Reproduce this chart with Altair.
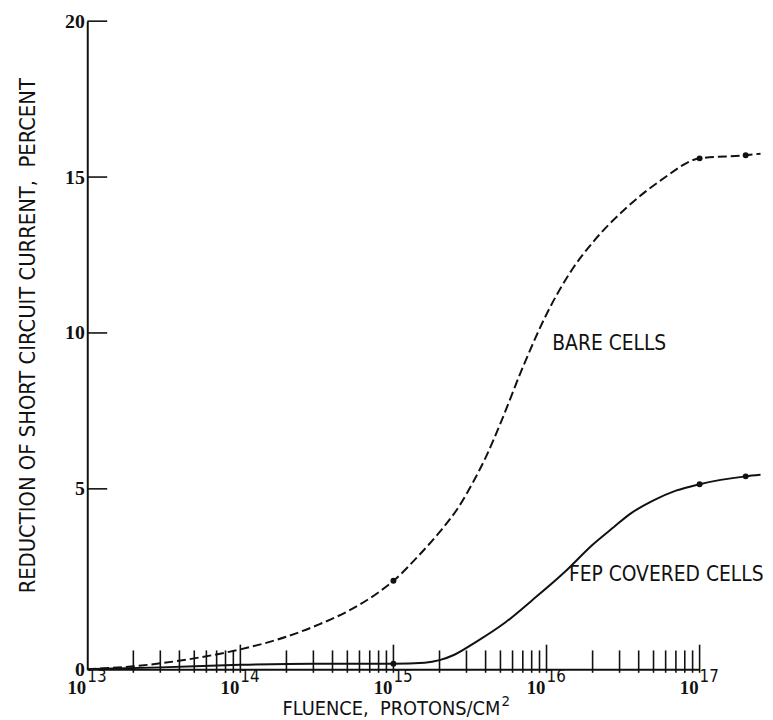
import altair as alt
import pandas as pd

# ---- data ----
bare_x = [1e13, 2e13, 5e13, 1e14, 2e14, 3.3e14, 5e14, 7.8e14, 1e15, 1.5e15, 2e15, 2.67e15,
          3.3e15, 4e15, 5e15, 7e15, 1e16, 1.5e16, 2e16, 3.3e16, 5.6e16, 1e17, 2e17, 2.5e17]
bare_y = [0.0, 0.08, 0.3, 0.55, 0.9, 1.25, 1.6, 2.1, 2.45, 3.2, 3.8, 4.5,
          5.2, 6.0, 7.1, 8.9, 10.6, 12.1, 12.9, 14.0, 14.9, 15.6, 15.7, 15.75]

fep_x = [1e13, 3e13, 1e14, 3e14, 1e15, 1.6e15, 2e15, 2.5e15, 3.45e15, 5.4e15, 8e15,
         1.32e16, 2e16, 2.77e16, 3.5e16, 5e16, 7e16, 1e17, 2e17, 2.5e17]
fep_y = [0.0, 0.05, 0.12, 0.15, 0.15, 0.18, 0.25, 0.4, 0.75, 1.3, 1.9,
         2.7, 3.45, 3.95, 4.3, 4.68, 4.95, 5.15, 5.4, 5.45]

bare_pts_x = [1e15, 1e17, 2e17]
bare_pts_y = [2.45, 15.6, 15.7]
fep_pts_x = [1e15, 1e17, 2e17]
fep_pts_y = [0.15, 5.15, 5.4]

y_tick_values = [0, 5, 10, 15, 20]
y_inner_ticks = [5, 10, 15, 20]
x_exponents = [13, 14, 15, 16, 17]
x_minor_mult = [2, 3, 4, 5, 6, 7, 8, 9]

series_labels = ["BARE CELLS", "FEP COVERED CELLS"]
series_label_x = [1.09e16, 1.4e16]
series_label_y = [9.65, 2.6]

x_title = "FLUENCE,\u00a0 PROTONS/CM"
x_title_sup = "2"
x_title_at = 5e15
y_title = "REDUCTION OF SHORT CIRCUIT CURRENT,\u00a0 PERCENT"

# ---- styling ----
NARROW = "'Liberation Sans Narrow', 'DejaVu Sans Condensed', 'Arial Narrow', sans-serif"
SERIF = "'Liberation Serif', 'DejaVu Serif', serif"
INK = "#111111"
PLOT_W, PLOT_H = 618, 654

xs = alt.Scale(type="log", domain=[1e13, 1e17], nice=False)
# the hand-drawn axis has a slightly longer 0-5 interval than the others
ys = alt.Scale(domain=[0, 5, 20], range=[PLOT_H, 472, 0], nice=False, zero=False)

bare_df = pd.DataFrame({"x": bare_x, "y": bare_y})
fep_df = pd.DataFrame({"x": fep_x, "y": fep_y})
pts_df = pd.DataFrame({"x": bare_pts_x + fep_pts_x, "y": bare_pts_y + fep_pts_y})

major = [10.0 ** e for e in x_exponents]
minor = [m * 10.0 ** e for e in x_exponents[:-1] for m in x_minor_mult]
xt_df = pd.DataFrame({
    "x": major[1:] + minor,
    "y0": [-0.1] * (len(major) - 1 + len(minor)),
    "y1": [0.68] * (len(major) - 1) + [0.52] * len(minor),
})
yt_df = pd.DataFrame({"y": y_inner_ticks, "x0": [1e13] * 4, "x1": [1.35e13] * 4})

xl_df = pd.DataFrame({"v": major, "base": ["10"] * len(major), "exp": [str(e) for e in x_exponents]})
lab_df = pd.DataFrame({"x": series_label_x, "y": series_label_y, "t": series_labels})
title_df = pd.DataFrame({"x": [x_title_at], "t": [x_title], "s": [x_title_sup]})

y_axis = alt.Axis(
    values=y_tick_values, ticks=False, grid=False,
    domainColor=INK, domainWidth=2,
    labelFont=SERIF, labelFontSize=20, labelFontWeight="bold", labelColor=INK, labelPadding=3,
    title=y_title, titleFont=NARROW, titleFontSize=22, titleFontWeight="normal", titleColor=INK,
    titleAngle=270, titleX=-60, titleY=317, titleAlign="center", titleBaseline="middle",
)
x_axis = alt.Axis(labels=False, ticks=False, grid=False, title=None, domainColor=INK, domainWidth=2)

bare_line = alt.Chart(bare_df).mark_line(
    color=INK, strokeWidth=2, strokeDash=[9, 4], interpolate="monotone"
).encode(
    x=alt.X("x:Q", scale=xs, axis=x_axis),
    y=alt.Y("y:Q", scale=ys, axis=y_axis),
)
fep_line = alt.Chart(fep_df).mark_line(
    color=INK, strokeWidth=2, interpolate="monotone"
).encode(x=alt.X("x:Q", scale=xs), y=alt.Y("y:Q", scale=ys))

points = alt.Chart(pts_df).mark_circle(color=INK, size=36, opacity=1).encode(
    x=alt.X("x:Q", scale=xs), y=alt.Y("y:Q", scale=ys)
)

xticks = alt.Chart(xt_df).mark_rule(color=INK, strokeWidth=1.6).encode(
    x=alt.X("x:Q", scale=xs), y=alt.Y("y0:Q", scale=ys), y2="y1:Q"
)
yticks = alt.Chart(yt_df).mark_rule(color=INK, strokeWidth=1.6).encode(
    x=alt.X("x0:Q", scale=xs), x2="x1:Q", y=alt.Y("y:Q", scale=ys)
)

xlab_base = alt.Chart(xl_df).mark_text(
    align="right", baseline="middle", dx=-1, dy=19, font=SERIF, fontSize=19, fontWeight="bold", color=INK
).encode(x=alt.X("v:Q", scale=xs), y=alt.datum(0), text="base:N")
xlab_exp = alt.Chart(xl_df).mark_text(
    align="left", baseline="middle", dx=0, dy=8, font=NARROW, fontSize=17, color=INK
).encode(x=alt.X("v:Q", scale=xs), y=alt.datum(0), text="exp:N")

series_text = alt.Chart(lab_df).mark_text(
    align="left", baseline="middle", font=NARROW, fontSize=21, color=INK
).encode(x=alt.X("x:Q", scale=xs), y=alt.Y("y:Q", scale=ys), text="t:N")

xtitle_main = alt.Chart(title_df).mark_text(
    align="right", baseline="middle", dy=40, font=NARROW, fontSize=20, color=INK
).encode(x=alt.X("x:Q", scale=xs), y=alt.datum(0), text="t:N")
xtitle_sup = alt.Chart(title_df).mark_text(
    align="left", baseline="middle", dx=1, dy=32, font=NARROW, fontSize=15, color=INK
).encode(x=alt.X("x:Q", scale=xs), y=alt.datum(0), text="s:N")

chart = alt.layer(
    bare_line, fep_line, points, xticks, yticks,
    xlab_base, xlab_exp, series_text, xtitle_main, xtitle_sup,
).properties(
    width=PLOT_W, height=PLOT_H,
    autosize=alt.AutoSizeParams(type="none"),
    padding={"left": 80, "top": 10, "right": 66, "bottom": 48},
    background="white",
).configure_view(stroke=None)

chart.save("out.html", embed_options={"renderer": "svg", "actions": False})
